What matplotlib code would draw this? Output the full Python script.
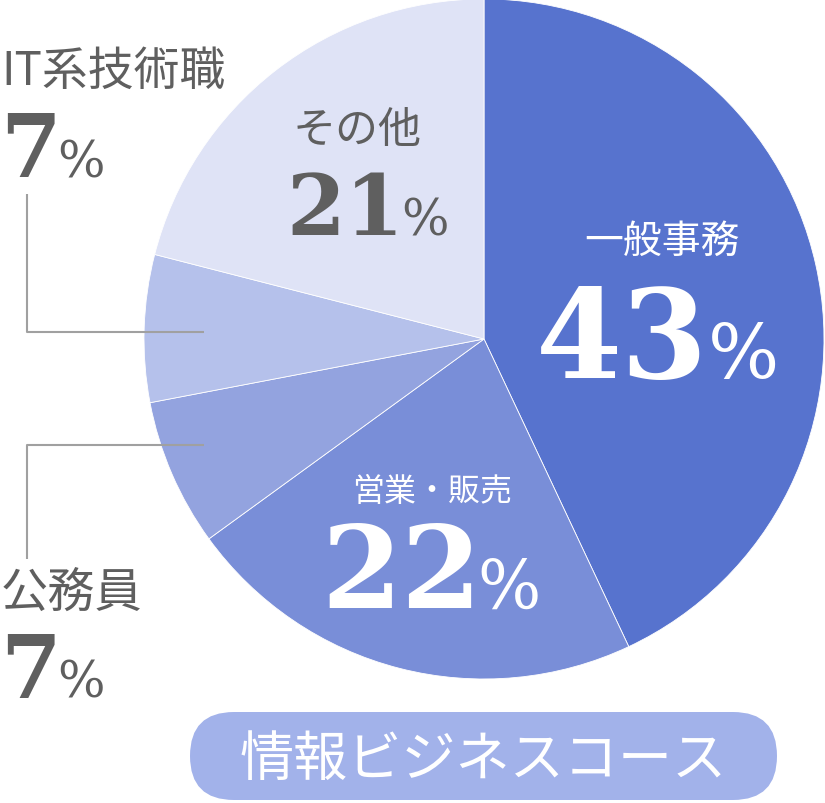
import matplotlib
matplotlib.use("Agg")
import matplotlib.pyplot as plt
from matplotlib.patches import FancyBboxPatch

plt.rcParams['font.family'] = ['Noto Sans CJK JP', 'DejaVu Sans']

# ---- data ----
categories = ["一般事務", "営業・販売", "公務員", "IT系技術職", "その他"]
values = [43, 22, 7, 7, 21]
colors = ["#5773ce", "#798ed8", "#93a3df", "#b5c1eb", "#dfe3f6"]
title_text = "情報ビジネスコース"

W, H = 825, 804
fig = plt.figure(figsize=(W / 100, H / 100), dpi=100)
ax = fig.add_axes([0, 0, 1, 1])

def Y(py):
    return H - py

cx, cy, R = 484, 340, 340
ax.pie(values, colors=colors, startangle=90, counterclock=False,
       center=(cx, Y(cy)), radius=R, frame=True,
       wedgeprops=dict(edgecolor='white', linewidth=0.6))
ax.set_xlim(0, W)
ax.set_ylim(0, H)
ax.set_aspect('equal')
ax.axis('off')

gray = "#5f5f5f"
num_font = dict(family='DejaVu Serif', weight='bold')
pct_font = dict(family='DejaVu Serif', weight='normal')

# label specs: (name x, name y center, name size, name ha, num left x, baseline y, num size, pct x, pct size, color)
specs = {
    "一般事務": (662, 242, 28, 'center', 536, 378, 89, 708, 54, 'white'),
    "営業・販売": (432, 492, 23, 'center', 321, 608, 83, 477, 48, 'white'),
    "その他": (357, 131, 31, 'center', 286, 235, 61, 401, 36, gray),
    "IT系技術職": (1, 72, 33, 'left', 0, 177, 63, 57, 36, gray),
    "公務員": (1, 594, 34, 'left', 0, 698, 63, 57, 36, gray),
}

for name, v in zip(categories, values):
    nx, ny, ns, nha, dx, by, dsz, px, psz, col = specs[name]
    ax.text(nx, Y(ny), name, ha=nha, va='center', fontsize=ns, color=col)
    ax.text(dx, Y(by), str(v), ha='left', va='baseline', fontsize=dsz, color=col, **num_font)
    ax.text(px, Y(by), "%", ha='left', va='baseline', fontsize=psz, color=col, **pct_font)

# leader lines
lc = "#a0a0a0"
ax.plot([27, 27, 204], [Y(195), Y(333), Y(333)], color=lc, lw=1.5, solid_capstyle='butt')
ax.plot([204, 27, 27], [Y(446), Y(446), Y(560)], color=lc, lw=1.5, solid_capstyle='butt')

# bottom rounded button
bx0, bx1, by0, by1 = 190, 777, 713, 801
rad = (by1 - by0) / 2
box = FancyBboxPatch((bx0, Y(by1)), (bx1 - bx0), by1 - by0,
                     boxstyle=f"round,pad=0,rounding_size={rad}",
                     facecolor="#a2b2ea", edgecolor='none')
ax.add_patch(box)
ax.text((bx0 + bx1) / 2, Y(760), title_text, ha='center', va='center',
        fontsize=39, color='white')

fig.savefig("out.png", dpi=100)
